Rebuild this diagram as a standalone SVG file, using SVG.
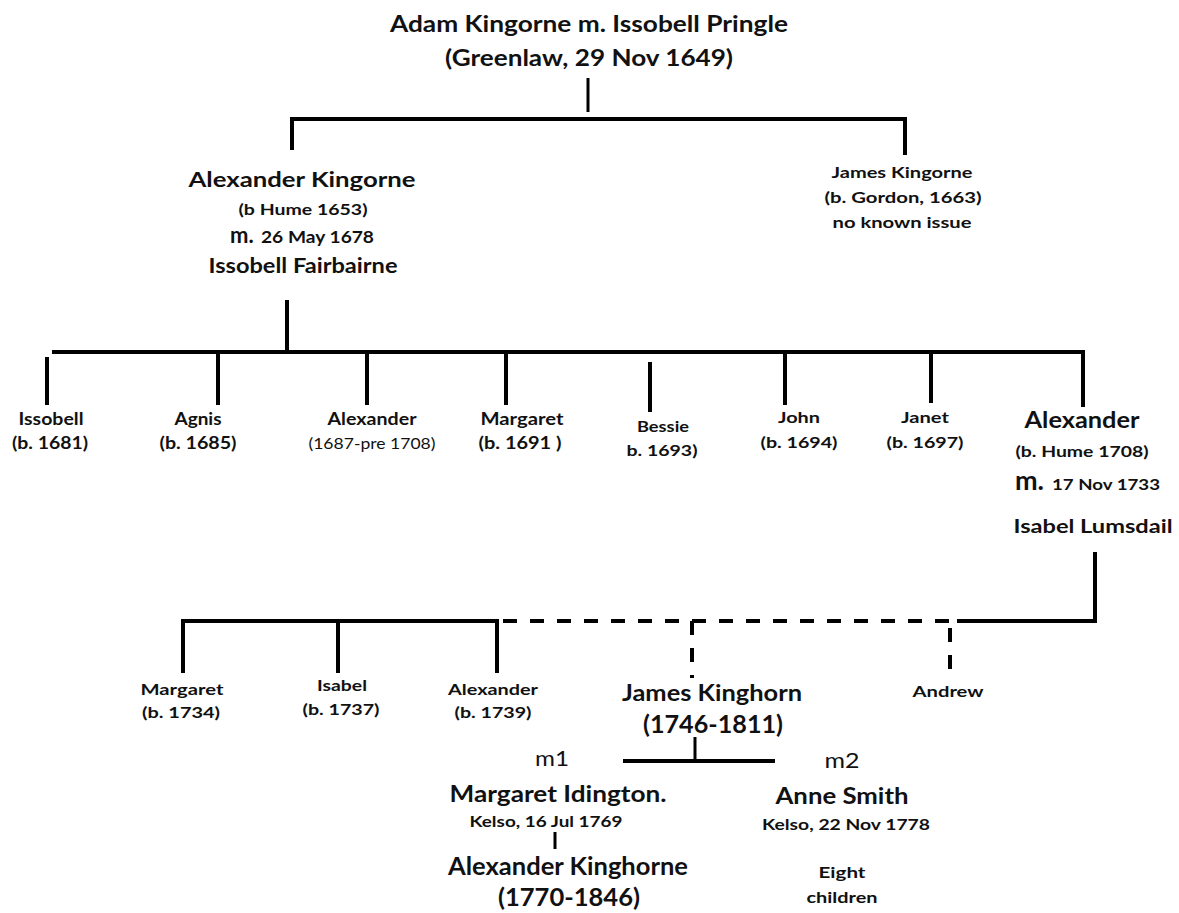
<svg xmlns="http://www.w3.org/2000/svg" width="1179" height="913" viewBox="0 0 1179 913">
<style>
  text { font-family: Lato, "Open Sans", "Liberation Sans", sans-serif; font-weight: 700; fill: #111; text-anchor: middle; }
  .r { font-weight: 400; }
  .ln { stroke: #000; stroke-width: 4; fill: none; stroke-linecap: butt; }
  .th { stroke-width: 3; }
  .ds { stroke-dasharray: 14 13; }
</style>
<rect width="1179" height="913" fill="#fff"/>
<g id="connectors">
  <line class="ln th" x1="588" y1="78" x2="588" y2="112"/>
  <line class="ln" x1="290" y1="119" x2="907" y2="119"/>
  <line class="ln" x1="292" y1="117" x2="292" y2="150"/>
  <line class="ln" x1="905" y1="117" x2="905" y2="155"/>
  <line class="ln" x1="287" y1="300" x2="287" y2="352"/>
  <line class="ln" x1="52" y1="352" x2="1085" y2="352"/>
  <line class="ln" x1="47" y1="357" x2="47" y2="405"/>
  <line class="ln" x1="218" y1="350" x2="218" y2="405"/>
  <line class="ln" x1="367" y1="350" x2="367" y2="405"/>
  <line class="ln" x1="506" y1="350" x2="506" y2="405"/>
  <line class="ln" x1="650" y1="362" x2="650" y2="412"/>
  <line class="ln" x1="785" y1="350" x2="785" y2="405"/>
  <line class="ln" x1="931" y1="350" x2="931" y2="403"/>
  <line class="ln" x1="1083" y1="350" x2="1083" y2="407"/>
  <line class="ln" x1="1095" y1="552" x2="1095" y2="623"/>
  <line class="ln" x1="181" y1="621" x2="499" y2="621"/>
  <line class="ln ds" x1="503" y1="621" x2="952" y2="621"/>
  <line class="ln" x1="957" y1="621" x2="1097" y2="621"/>
  <line class="ln" x1="183" y1="619" x2="183" y2="673"/>
  <line class="ln" x1="338" y1="619" x2="338" y2="673"/>
  <line class="ln" x1="497" y1="619" x2="497" y2="673"/>
  <line class="ln ds" x1="692" y1="621" x2="692" y2="678"/>
  <line class="ln ds" x1="950" y1="628" x2="950" y2="681"/>
  <line class="ln th" x1="695" y1="737" x2="695" y2="761"/>
  <line class="ln" x1="623" y1="761" x2="775" y2="761"/>
  <line class="ln th" x1="555" y1="832" x2="555" y2="849"/>
</g>
<g id="adam">
  <text x="589" y="32" font-size="23" textLength="398" lengthAdjust="spacingAndGlyphs">Adam Kingorne  m. Issobell  Pringle</text>
  <text x="589" y="66" font-size="23" textLength="288" lengthAdjust="spacingAndGlyphs">(Greenlaw,  29 Nov  1649)</text>
</g>
<g id="alexander-1653">
  <text x="302" y="187" font-size="21" textLength="227" lengthAdjust="spacingAndGlyphs">Alexander  Kingorne</text>
  <text x="303" y="215" font-size="15" textLength="129" lengthAdjust="spacingAndGlyphs">(b Hume 1653)</text>
  <text x="230" y="243" font-size="17" style="text-anchor:start"><tspan font-size="22">m.</tspan><tspan x="261" textLength="113" lengthAdjust="spacingAndGlyphs">26 May 1678</tspan></text>
  <text x="303" y="273" font-size="20" textLength="189" lengthAdjust="spacingAndGlyphs">Issobell Fairbairne</text>
</g>
<g id="james-1663">
  <text x="902" y="178" font-size="16" textLength="141" lengthAdjust="spacingAndGlyphs">James Kingorne</text>
  <text x="903" y="203" font-size="16" textLength="157" lengthAdjust="spacingAndGlyphs">(b. Gordon, 1663)</text>
  <text x="902" y="228" font-size="16" textLength="139" lengthAdjust="spacingAndGlyphs">no known issue</text>
</g>
<g id="issobell-1681">
  <text x="51" y="425" font-size="16.5" textLength="65" lengthAdjust="spacingAndGlyphs">Issobell</text>
  <text x="50" y="449" font-size="16.5" textLength="76" lengthAdjust="spacingAndGlyphs">(b. 1681)</text>
</g>
<g id="agnis-1685">
  <text x="198" y="425" font-size="16.5" textLength="47" lengthAdjust="spacingAndGlyphs">Agnis</text>
  <text x="198" y="449" font-size="16.5" textLength="77" lengthAdjust="spacingAndGlyphs">(b. 1685)</text>
</g>
<g id="alexander-1687">
  <text x="372" y="425" font-size="16.5" textLength="89" lengthAdjust="spacingAndGlyphs">Alexander</text>
  <text class="r" x="372" y="449" font-size="15" textLength="127" lengthAdjust="spacingAndGlyphs">(1687-pre 1708)</text>
</g>
<g id="margaret-1691">
  <text x="522" y="425" font-size="16.5" textLength="83" lengthAdjust="spacingAndGlyphs">Margaret</text>
  <text x="520" y="449" font-size="16.5" textLength="83" lengthAdjust="spacingAndGlyphs">(b. 1691 )</text>
</g>
<g id="bessie-1693">
  <text x="663" y="432" font-size="15" textLength="52" lengthAdjust="spacingAndGlyphs">Bessie</text>
  <text x="662" y="456" font-size="15.5" textLength="71" lengthAdjust="spacingAndGlyphs">b. 1693)</text>
</g>
<g id="john-1694">
  <text x="799" y="423" font-size="15.5" textLength="42" lengthAdjust="spacingAndGlyphs">John</text>
  <text x="799" y="448" font-size="16" textLength="77" lengthAdjust="spacingAndGlyphs">(b. 1694)</text>
</g>
<g id="janet-1697">
  <text x="925" y="423" font-size="15.5" textLength="48" lengthAdjust="spacingAndGlyphs">Janet</text>
  <text x="925" y="448" font-size="16" textLength="77" lengthAdjust="spacingAndGlyphs">(b. 1697)</text>
</g>
<g id="alexander-1708">
  <text x="1082" y="428" font-size="22" textLength="115" lengthAdjust="spacingAndGlyphs">Alexander</text>
  <text x="1082" y="457" font-size="15" textLength="133" lengthAdjust="spacingAndGlyphs">(b. Hume 1708)</text>
  <text x="1015" y="490" font-size="15" style="text-anchor:start"><tspan font-size="27">m.</tspan><tspan x="1052" textLength="108" lengthAdjust="spacingAndGlyphs">17 Nov 1733</tspan></text>
  <text x="1093" y="533" font-size="19" textLength="159" lengthAdjust="spacingAndGlyphs">Isabel Lumsdail</text>
</g>
<g id="margaret-1734">
  <text x="182" y="695" font-size="16" textLength="83" lengthAdjust="spacingAndGlyphs">Margaret</text>
  <text x="181" y="718" font-size="16" textLength="78" lengthAdjust="spacingAndGlyphs">(b. 1734)</text>
</g>
<g id="isabel-1737">
  <text x="342" y="691" font-size="16" textLength="50" lengthAdjust="spacingAndGlyphs">Isabel</text>
  <text x="341" y="715" font-size="16" textLength="77" lengthAdjust="spacingAndGlyphs">(b. 1737)</text>
</g>
<g id="alexander-1739">
  <text x="493" y="695" font-size="16" textLength="90" lengthAdjust="spacingAndGlyphs">Alexander</text>
  <text x="493" y="718" font-size="16" textLength="77" lengthAdjust="spacingAndGlyphs">(b. 1739)</text>
</g>
<g id="james-kinghorn">
  <text x="712" y="701" font-size="23" textLength="180" lengthAdjust="spacingAndGlyphs">James Kinghorn</text>
  <text x="713" y="733" font-size="24" textLength="140" lengthAdjust="spacingAndGlyphs">(1746-1811)</text>
</g>
<g id="andrew">
  <text x="948" y="697" font-size="15" textLength="71" lengthAdjust="spacingAndGlyphs">Andrew</text>
</g>
<g id="margaret-idington">
  <text class="r" x="552" y="766" font-size="21" textLength="34" lengthAdjust="spacingAndGlyphs">m1</text>
  <text x="558" y="802" font-size="22" textLength="217" lengthAdjust="spacingAndGlyphs">Margaret  Idington.</text>
  <text x="546" y="827" font-size="15" textLength="153" lengthAdjust="spacingAndGlyphs">Kelso, 16 Jul 1769</text>
</g>
<g id="alexander-1770">
  <text x="568" y="875" font-size="24" textLength="240" lengthAdjust="spacingAndGlyphs">Alexander Kinghorne</text>
  <text x="569" y="906" font-size="24" textLength="142" lengthAdjust="spacingAndGlyphs">(1770-1846)</text>
</g>
<g id="anne-smith">
  <text class="r" x="842" y="768" font-size="21" textLength="35" lengthAdjust="spacingAndGlyphs">m2</text>
  <text x="842" y="804" font-size="22" textLength="133" lengthAdjust="spacingAndGlyphs">Anne Smith</text>
  <text x="846" y="830" font-size="15" textLength="168" lengthAdjust="spacingAndGlyphs">Kelso, 22 Nov 1778</text>
  <text x="842" y="878" font-size="15" textLength="47" lengthAdjust="spacingAndGlyphs">Eight</text>
  <text x="842" y="903" font-size="15" textLength="71" lengthAdjust="spacingAndGlyphs">children</text>
</g>
</svg>
